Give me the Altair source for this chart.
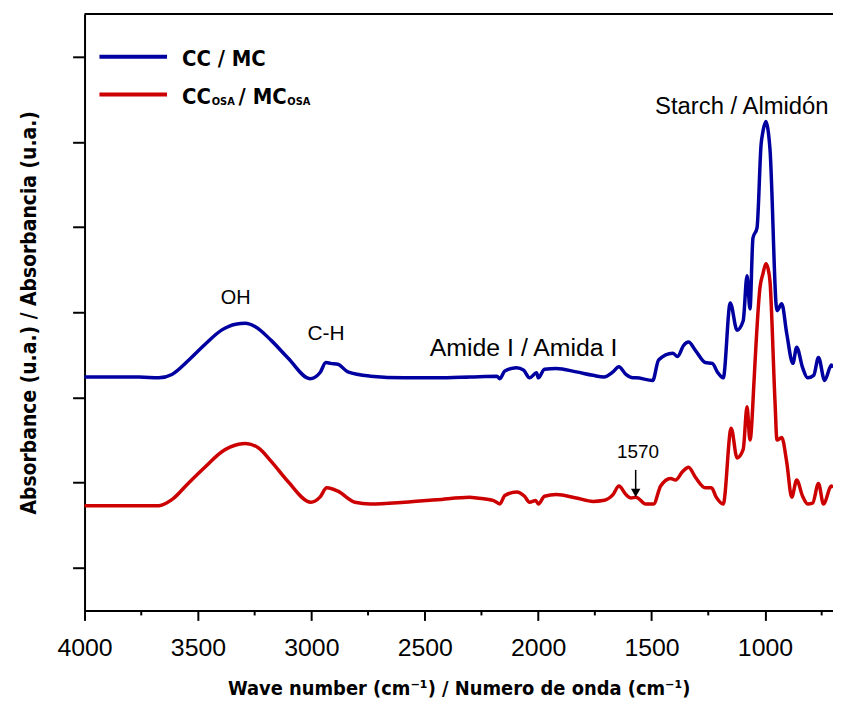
import altair as alt
import pandas as pd

# ---- data ----
wn_cc = [4000, 3759, 3672, 3615, 3540, 3466, 3396, 3334, 3291, 3247, 3177, 3102, 3006, 2962,
         2936, 2915, 2883, 2839, 2739, 2590, 2445, 2301, 2182, 2169, 2147, 2095, 2064, 2038,
         2007, 1999, 1972, 1920, 1832, 1758, 1710, 1670, 1644, 1613, 1582, 1569, 1495, 1469,
         1407, 1385, 1359, 1337, 1306, 1263, 1232, 1210, 1184, 1153, 1123, 1096, 1079, 1066,
         1053, 1035, 1017, 1009, 996, 987, 978, 947, 926, 904, 877, 860, 834, 812, 785, 764,
         737, 707, 700]
abs_cc = [2.74, 2.74, 2.73, 2.77, 2.94, 3.13, 3.29, 3.36, 3.37, 3.33, 3.17, 2.96, 2.72, 2.79,
          2.91, 2.90, 2.89, 2.80, 2.75, 2.73, 2.73, 2.74, 2.75, 2.72, 2.81, 2.85, 2.82, 2.73,
          2.79, 2.73, 2.83, 2.84, 2.80, 2.76, 2.74, 2.80, 2.86, 2.77, 2.73, 2.73, 2.70, 2.94,
          3.02, 2.98, 3.11, 3.15, 3.05, 2.91, 2.90, 2.80, 2.73, 3.61, 3.29, 3.40, 3.93, 3.54,
          4.37, 4.49, 5.47, 5.62, 5.74, 5.65, 5.42, 3.52, 3.60, 3.25, 2.90, 3.09, 2.85, 2.73,
          2.76, 2.97, 2.70, 2.88, 2.85]

wn_osa = [4000, 3759, 3672, 3615, 3540, 3466, 3396, 3321, 3291, 3234, 3177, 3102, 3002, 2962,
          2932, 2883, 2808, 2739, 2590, 2445, 2301, 2270, 2196, 2169, 2147, 2095, 2060, 2038,
          2011, 1999, 1972, 1920, 1832, 1758, 1714, 1670, 1644, 1613, 1591, 1569, 1526, 1491,
          1460, 1416, 1394, 1363, 1337, 1306, 1263, 1236, 1215, 1184, 1149, 1123, 1096, 1079,
          1066, 1048, 1044, 1022, 1009, 996, 987, 978, 956, 947, 926, 904, 882, 860, 834, 812,
          790, 764, 742, 707, 700]
abs_osa = [1.23, 1.23, 1.23, 1.30, 1.50, 1.69, 1.86, 1.95, 1.96, 1.91, 1.75, 1.51, 1.27, 1.33,
           1.44, 1.40, 1.27, 1.25, 1.27, 1.30, 1.33, 1.32, 1.29, 1.25, 1.35, 1.39, 1.34, 1.27,
           1.29, 1.25, 1.34, 1.36, 1.32, 1.28, 1.29, 1.36, 1.46, 1.36, 1.32, 1.33, 1.25, 1.25,
           1.46, 1.55, 1.53, 1.63, 1.68, 1.56, 1.44, 1.44, 1.33, 1.25, 2.14, 1.79, 1.89, 2.39,
           2.00, 2.70, 2.90, 3.79, 3.95, 4.07, 4.02, 3.87, 2.47, 2.00, 2.03, 1.74, 1.33, 1.53,
           1.34, 1.25, 1.26, 1.49, 1.25, 1.46, 1.44]

series = ["CC / MC", "CCosa / MCosa"]
colors = ["#0000A0", "#CC0000"]

major_ticks = [4000, 3500, 3000, 2500, 2000, 1500, 1000]
minor_ticks = [3750, 3250, 2750, 2250, 1750, 1250, 750]
y_ticks = [0.5, 1.5, 2.5, 3.5, 4.5, 5.5, 6.5]

ann_text = ["OH", "C-H", "Amide I / Amida I", "Starch / Almidón", "1570"]
ann_wn = [3334, 2935, 2064, 1102, 1560]
ann_abs = [3.67, 3.25, 3.08, 5.91, 1.86]
ann_size = [20, 21, 25, 24, 19]

arrow_wn = [1570]
arrow_top = [1.65]
arrow_bottom = [1.42]
arrow_head = [1.38]

# ---- tables ----
df = pd.concat([
    pd.DataFrame({"wn": wn_cc, "a": abs_cc, "series": series[0]}),
    pd.DataFrame({"wn": wn_osa, "a": abs_osa, "series": series[1]}),
])
df_minor = pd.DataFrame({"wn": minor_ticks})
df_ann = pd.DataFrame({"wn": ann_wn, "a": ann_abs, "t": ann_text, "fs": ann_size})
df_arrow = pd.DataFrame({"wn": arrow_wn, "a": arrow_top, "a2": arrow_bottom, "h": arrow_head})

W, H = 753, 600
BOLD = "DejaVu Sans Condensed, Liberation Sans Narrow, sans-serif"
REG = "Liberation Sans, Arial, sans-serif"

xs = alt.Scale(domain=[4000, 700], nice=False, zero=False)
ys = alt.Scale(domain=[0, 7], nice=False, zero=False)

x_axis = alt.Axis(values=major_ticks, title="Wave number (cm⁻¹) / Numero de onda (cm⁻¹)",
                  titleFont=BOLD, titleFontSize=20, titleFontWeight="bold", titleColor="black",
                  titlePadding=19, labelFont=REG, labelFontSize=25, labelColor="black",
                  labelPadding=15, tickSize=10, format="d", labelFlush=False)
y_axis = alt.Axis(values=y_ticks, labels=False, title="Absorbance (u.a.) / Absorbancia (u.a.)",
                  titleFont=BOLD, titleFontSize=21, titleFontWeight="bold", titleColor="black",
                  titlePadding=32, tickSize=12)

lines = alt.Chart(df).mark_line(strokeWidth=3.5, interpolate="monotone").encode(
    x=alt.X("wn:Q", scale=xs, axis=x_axis),
    y=alt.Y("a:Q", scale=ys, axis=y_axis),
    color=alt.Color("series:N", scale=alt.Scale(domain=series, range=colors), legend=None),
    order=alt.Order("wn:Q", sort="descending"),
)

minor = alt.Chart(df_minor).mark_rule(color="black", strokeWidth=2).encode(
    x=alt.X("wn:Q", scale=xs), y=alt.value(H), y2=alt.value(H + 5))

top = alt.Chart(alt.Data(values=[{}])).mark_rule(color="black", strokeWidth=2).encode(
    x=alt.value(0), x2=alt.value(W), y=alt.value(0))

ann = alt.Chart(df_ann).mark_text(font=REG, color="black", baseline="middle", align="center").encode(
    x=alt.X("wn:Q", scale=xs), y=alt.Y("a:Q", scale=ys), text="t:N",
    size=alt.Size("fs:Q", scale=None))

arrow_line = alt.Chart(df_arrow).mark_rule(color="black", strokeWidth=1.5).encode(
    x=alt.X("wn:Q", scale=xs), y=alt.Y("a:Q", scale=ys), y2="a2:Q")
arrow_tip = alt.Chart(df_arrow).mark_point(shape="triangle-down", filled=True, color="black",
                                           size=90, opacity=1).encode(
    x=alt.X("wn:Q", scale=xs), y=alt.Y("h:Q", scale=ys))

# legend (manual, to allow subscripts)
one = alt.Data(values=[{}])
leg_blue = alt.Chart(one).mark_rule(color=colors[0], strokeWidth=4).encode(
    x=alt.value(15), x2=alt.value(83), y=alt.value(43))
leg_red = alt.Chart(one).mark_rule(color=colors[1], strokeWidth=4).encode(
    x=alt.value(15), x2=alt.value(83), y=alt.value(81))

def txt(s, x, y, fs):
    return alt.Chart(one).mark_text(text=s, font=BOLD, fontWeight="bold", fontSize=fs,
                                    color="black", align="left", baseline="alphabetic").encode(
        x=alt.value(x), y=alt.value(y))

leg_texts = [
    txt("CC / MC", 98, 52, 22),
    txt("CC", 98, 90, 22),
    txt("OSA", 128, 91, 11),
    txt("/ MC", 155, 90, 22),
    txt("OSA", 204, 91, 11),
]

chart = alt.layer(lines, minor, top, ann, arrow_line, arrow_tip, leg_blue, leg_red, *leg_texts).properties(
    width=W, height=H,
    padding={"left": 77, "top": 4, "right": 0, "bottom": 90},
    autosize=alt.AutoSizeParams(type="none"),
).configure_view(stroke=None).configure_axis(
    grid=False, domainColor="black", domainWidth=2, tickColor="black", tickWidth=2,
)

chart.save("out.html", embed_options={"renderer": "svg", "actions": False})
